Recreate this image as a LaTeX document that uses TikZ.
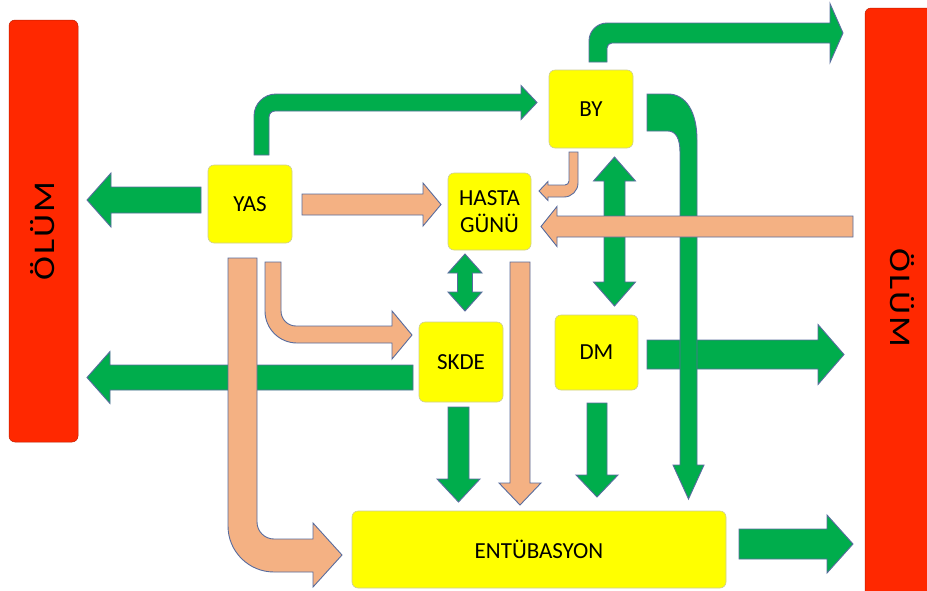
\documentclass[tikz,border=0pt]{standalone}
\usepackage{fontspec}
\setmainfont{Carlito}
\usepackage{graphicx}
\definecolor{grn}{RGB}{0,173,76}
\definecolor{slm}{RGB}{244,177,131}
\definecolor{ylw}{RGB}{255,255,0}
\definecolor{rd}{RGB}{255,40,0}
\definecolor{edge}{RGB}{88,108,158}
\definecolor{yedge}{RGB}{205,205,150}
% horizontal block arrow: style, x start, x tip, y centre, half shaft, half head, head length
\newcommand\harr[7]{%
  \pgfmathsetmacro\myhb{#3+((#3<#2)?1:-1)*#7}%
  \filldraw[#1] (#2,#4-#5) -- (\myhb,#4-#5) -- (\myhb,#4-#6) -- (#3,#4) -- (\myhb,#4+#6) -- (\myhb,#4+#5) -- (#2,#4+#5) -- cycle;}
% vertical block arrow: style, y start, y tip, x centre, half shaft, half head, head length
\newcommand\varr[7]{%
  \pgfmathsetmacro\myhb{#3+((#3<#2)?1:-1)*#7}%
  \filldraw[#1] (#4-#5,#2) -- (#4-#5,\myhb) -- (#4-#6,\myhb) -- (#4,#3) -- (#4+#6,\myhb) -- (#4+#5,\myhb) -- (#4+#5,#2) -- cycle;}
% vertical double block arrow: style, y top tip, y bottom tip, x centre, half shaft, half head, head length
\newcommand\vdarr[7]{%
  \filldraw[#1] (#4,#2) -- (#4+#6,#2+#7) -- (#4+#5,#2+#7) -- (#4+#5,#3-#7) -- (#4+#6,#3-#7) -- (#4,#3)
    -- (#4-#6,#3-#7) -- (#4-#5,#3-#7) -- (#4-#5,#2+#7) -- (#4-#6,#2+#7) -- cycle;}
\begin{document}
\begin{tikzpicture}[x=1pt,y=-1pt,
  garr/.style={fill=grn, draw=edge, line width=0.9pt, line join=miter},
  sarr/.style={fill=slm, draw=edge, line width=0.9pt, line join=miter},
  ybox/.style={fill=ylw, draw=yedge, line width=0.6pt, rounded corners=6pt,
    font=\fontsize{23}{27}\selectfont, align=center, inner sep=0pt},
  rbox/.style={fill=rd, draw=rd!75!black, line width=0.5pt, rounded corners=6pt, inner sep=0pt},
  rtext/.style={font=\fontsize{30}{34}\selectfont, inner sep=0pt}]
\useasboundingbox (0,0) rectangle (927,590);
\fill[white] (0,0) rectangle (927,590);
\begin{scope}
\clip (0,0) rectangle (927,590);
% red boxes
\node[rbox, minimum width=69pt, minimum height=422pt] (olumL) at (43.5,231) {};
\node[rtext, rotate=90] (olumLt) at (42.5,231) {\scalebox{1.2}[1]{Ö\kern1.5ptL\kern1.5ptÜ\kern1.5ptM}};
\node[rbox, minimum width=76pt, minimum height=600pt] (olumR) at (903,308) {};
\node[rtext, rotate=-90] (olumRt) at (902,298) {\scalebox{1.2}[1]{Ö\kern1.5ptL\kern1.5ptÜ\kern1.5ptM}};
\end{scope}
% yellow boxes
\node[ybox, minimum width=84pt, minimum height=78pt] (yas) at (250,204) {YAS};
\node[ybox, minimum width=84pt, minimum height=78pt] (by) at (591,109) {BY};
\node[ybox, minimum width=83pt, minimum height=77pt] (hasta) at (489.5,211.5) {HASTA\\GÜNÜ};
\node[ybox, minimum width=84pt, minimum height=80pt] (skde) at (461,362) {SKDE};
\node[ybox, minimum width=83pt, minimum height=75pt] (dm) at (596.5,352.5) {DM};
\node[ybox, minimum width=374pt, minimum height=77pt] (ent) at (539,549.5) {ENTÜBASYON};
% green straight arrows
\harr{garr}{647}{844}{354.5}{14.5}{30}{26}   % DM -> right ÖLÜM
\harr{garr}{413}{87}{377.5}{12.5}{26}{23}    % SKDE -> left ÖLÜM
\harr{garr}{201}{87}{200}{13}{27}{24}        % YAS -> left ÖLÜM
\harr{garr}{739}{853}{544}{15}{29}{26}       % ENTÜBASYON -> right ÖLÜM
\varr{garr}{407}{502}{458.5}{10.5}{21.5}{23} % SKDE -> ENTÜBASYON
\varr{garr}{403}{497}{597}{10}{21}{22}       % DM -> ENTÜBASYON
\vdarr{garr}{254}{311}{465}{7.5}{17}{19}     % HASTA GÜNÜ <-> SKDE
% YAS -> BY
\filldraw[garr] (254,155) -- (254,116) .. controls (254,103.86) and (263.86,94) .. (276,94) -- (521,94)
  -- (521,85.5) -- (537,102.5) -- (521,119.5) -- (521,111) -- (275,111)
  .. controls (271.69,111) and (269,113.69) .. (269,117) -- (269,155) -- cycle;
% BY -> top right
\filldraw[garr] (589,62) -- (589,41) .. controls (589,31.06) and (597.06,23) .. (607,23) -- (830,23)
  -- (830,3.5) -- (843,33) -- (830,62.5) -- (830,43) -- (612,43)
  .. controls (609.24,43) and (607,45.24) .. (607,48) -- (607,62) -- cycle;
% BY -> ENTÜBASYON
\filldraw[garr] (647,94) -- (668,94) .. controls (686,94) and (697,112) .. (697,140) -- (697,465)
  -- (704,465) -- (688.5,499) -- (673,465) -- (680,465) -- (680,152)
  .. controls (680,139) and (676,131) .. (668,131) -- (647,131) -- cycle;
% BY <-> DM
\vdarr{garr}{157}{306}{614.5}{10.5}{21}{24}
% salmon arrows
\harr{sarr}{853}{541}{226.5}{10.5}{20}{16}   % right ÖLÜM -> HASTA GÜNÜ
\harr{sarr}{302}{441}{204.5}{10.5}{21.5}{18} % YAS -> HASTA GÜNÜ
\varr{sarr}{262}{505}{520}{10}{21}{22}       % HASTA GÜNÜ -> ENTÜBASYON
% BY -> HASTA GÜNÜ
\filldraw[sarr] (569,152) -- (569,181) .. controls (569,183.2) and (567.2,185) .. (565,185) -- (548,185)
  -- (548,181.5) -- (539,191) -- (548,200.5) -- (548,197) -- (564,197)
  .. controls (571.73,197) and (578,190.73) .. (578,183) -- (578,152) -- cycle;
% YAS -> SKDE
\filldraw[sarr] (265,262) -- (265,311) .. controls (265,328.66) and (279.34,343) .. (297,343) -- (392,343)
  -- (392,359) -- (412,335) -- (392,311) -- (392,326) -- (296,326)
  .. controls (287.72,326) and (281,319.28) .. (281,311) -- (281,262) -- cycle;
% YAS -> ENTÜBASYON
\filldraw[sarr] (228,258) -- (228,526) .. controls (228,551.39) and (248.61,572) .. (274,572) -- (313,572)
  -- (313,587) -- (342,555) -- (313,523) -- (313,539) -- (274,539)
  .. controls (264.62,539) and (257,531.38) .. (257,522) -- (257,258) -- cycle;
\end{tikzpicture}
\end{document}
